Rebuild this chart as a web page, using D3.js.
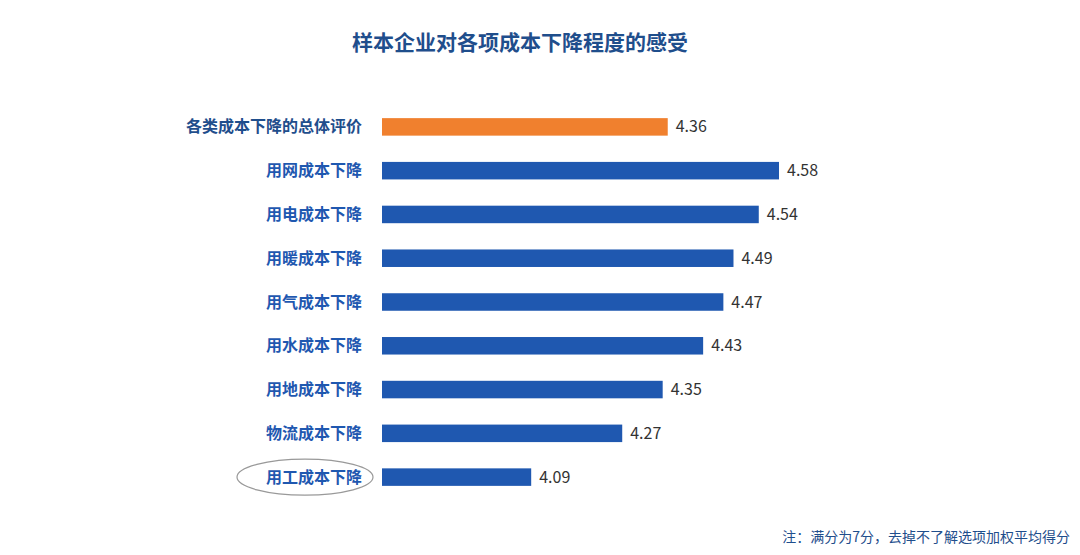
<!DOCTYPE html><html><head><meta charset="utf-8">
<script src="https://cdn.jsdelivr.net/npm/d3@7"></script>
<style>body{margin:0;background:#fff}</style></head><body>
<svg id="c" width="1080" height="555"></svg>
<script>
const categories=["各类成本下降的总体评价","用网成本下降","用电成本下降","用暖成本下降","用气成本下降","用水成本下降","用地成本下降","物流成本下降","用工成本下降"];
const values=[4.36,4.58,4.54,4.49,4.47,4.43,4.35,4.27,4.09];
const title="样本企业对各项成本下降程度的感受";
const note="注：满分为7分，去掉不了解选项加权平均得分";
const svg=d3.select("#c");
const font="'Noto Sans CJK SC',sans-serif";
const x=d3.scaleLinear().domain([3.795,4.58]).range([382,779]);
const y=d3.scaleBand().domain(categories).range([105,499]).paddingInner(0.6).paddingOuter(0.3);
svg.append("text").attr("x",520).attr("y",50).attr("text-anchor","middle").attr("font-family",font)
 .attr("font-size",21).attr("font-weight","bold").attr("fill","#1f4e8c").text(title);
const g=svg.append("g");
g.selectAll("rect").data(categories).join("rect").attr("x",x(3.795)).attr("y",d=>y(d))
 .attr("width",(d,i)=>x(values[i])-x(3.795)).attr("height",y.bandwidth())
 .attr("fill",(d,i)=>i===0?"#f0802e":"#1f58b0");
g.selectAll("text.l").data(categories).join("text").attr("class","l").attr("x",362)
 .attr("y",d=>y(d)+y.bandwidth()/2).attr("dy","0.35em").attr("text-anchor","end")
 .attr("font-family",font).attr("font-size",16).attr("font-weight","bold")
 .attr("fill",(d,i)=>i===0?"#1f4e8c":"#1f58b0").text(d=>d);
g.selectAll("text.v").data(categories).join("text").attr("class","v")
 .attr("x",(d,i)=>x(values[i])+8).attr("y",d=>y(d)+y.bandwidth()/2).attr("dy","0.35em")
 .attr("font-family",font).attr("font-size",16).attr("fill","#333").text((d,i)=>values[i].toFixed(2));
const last=categories[categories.length-1];
svg.append("ellipse").attr("cx",305).attr("cy",y(last)+y.bandwidth()/2).attr("rx",68).attr("ry",18)
 .attr("fill","none").attr("stroke","#999").attr("stroke-width",1.2);
svg.append("text").attr("x",1070).attr("y",542).attr("text-anchor","end").attr("font-family",font)
 .attr("font-size",14).attr("fill","#1f4e8c").text(note);
</script></body></html>
